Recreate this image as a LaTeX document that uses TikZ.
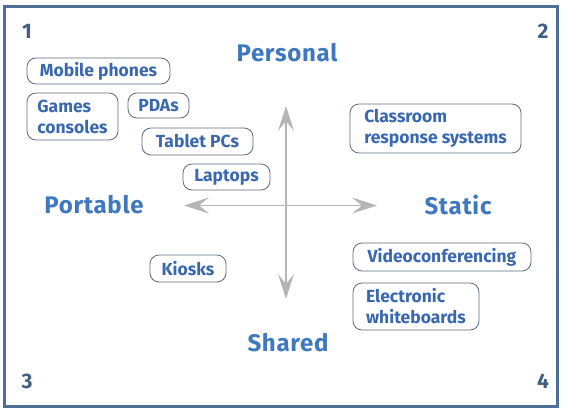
\documentclass[tikz,border=0pt]{standalone}
\usepackage{fontspec}
\setmainfont{Fira Sans}
\usetikzlibrary{arrows.meta}
\definecolor{frame}{HTML}{4E7096}
\definecolor{head}{HTML}{3F78BE}
\definecolor{itemtxt}{HTML}{3A68AE}
\definecolor{num}{HTML}{3F5F86}
\definecolor{boxline}{HTML}{5C6B7E}
\definecolor{axis}{HTML}{B5B5B5}
\begin{document}
\begin{tikzpicture}[x=1pt,y=-1pt,
  item/.style={draw=boxline,line width=0.8pt,rounded corners=9pt,text=itemtxt,
    font=\fontsize{17.5}{21}\selectfont\bfseries,inner xsep=5pt,inner ysep=3pt,align=left},
  heading/.style={text=head,font=\fontsize{24}{25}\selectfont\bfseries\addfontfeatures{LetterSpace=3}},
  numlbl/.style={text=num,font=\fontsize{21}{22}\selectfont\bfseries},
  ax/.style={draw=axis,line width=1.2pt,{Stealth[length=25pt,width=16pt,inset=10pt]}-{Stealth[length=25pt,width=16pt,inset=10pt]}}]
\useasboundingbox (0,0) rectangle (567,412);
\draw[frame,line width=3pt] (4.5,6.5) rectangle (557,406);
\node[numlbl] (n1) at (27,31) {1};
\node[numlbl] (n2) at (543,31) {2};
\node[numlbl] (n3) at (27,381) {3};
\node[numlbl] (n4) at (543,381) {4};
\node[heading] (personal) at (287,53) {Personal};
\node[heading] (static) at (458,205) {Static};
\node[heading] (portable) at (94,205) {Portable};
\node[heading] (shared) at (288,343) {Shared};
\coordinate (top) at (286,106);
\coordinate (bot) at (286,299);
\coordinate (lft) at (184,205.5);
\coordinate (rgt) at (377,205.5);
\draw[ax] (top) -- (bot);
\draw[ax] (lft) -- (rgt);
\node[item,minimum width=143pt,minimum height=26pt] (mob) at (98.5,71) {Mobile phones};
\node[item,minimum width=91pt,minimum height=47pt] (games) at (72.5,116.5) {Games\\consoles};
\node[item,minimum width=61pt,minimum height=25pt] (pda) at (158.5,105.5) {PDAs};
\node[item,minimum width=111pt,minimum height=27pt] (tab) at (197.5,141.5) {Tablet PCs};
\node[item,minimum width=87pt,minimum height=26pt] (lap) at (226.5,177) {Laptops};
\node[item,minimum width=171pt,minimum height=49pt] (crs) at (435.5,128.5) {Classroom\\response systems};
\node[item,minimum width=76pt,minimum height=27pt] (kio) at (188,268.5) {Kiosks};
\node[item,minimum width=178pt,minimum height=28pt] (vid) at (442,257) {Videoconferencing};
\node[item,minimum width=126pt,minimum height=47pt] (ewb) at (416,306.5) {Electronic\\whiteboards};
\end{tikzpicture}
\end{document}
